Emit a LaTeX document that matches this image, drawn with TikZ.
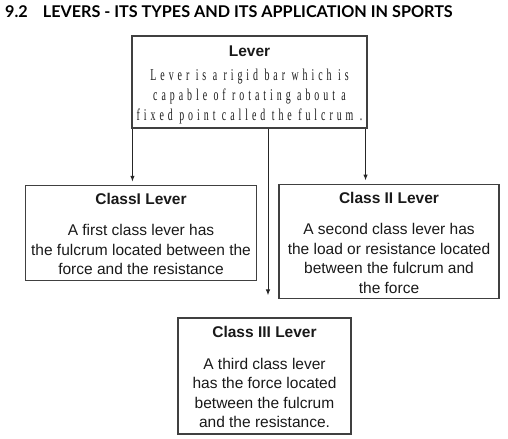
\documentclass[tikz,border=0pt]{standalone}
\usepackage{fontspec}
\setmainfont{Liberation Sans}
\newfontfamily\headfont{Lato}
\newfontfamily\condserif[FakeStretch=0.6,LetterSpace=24]{Liberation Serif}
\usetikzlibrary{arrows.meta}
\usetikzlibrary{positioning}
\newcommand{\levertype}[2]{%
    \begin{tabular}{c}
        \rule{0pt}{19bp}\textbf{#1}\\[12bp]
        #2
    \end{tabular}%
}
\newcommand{\Lever}{%
    \begin{tabular}{@{}c@{}}
        \rule{0pt}{19bp}{\fontsize{15.5bp}{20bp}\selectfont\textbf{Lever}}\\[4bp]
        {\condserif Lever is a rigid bar which is}\\
        {\condserif capable of rotating about a}\\
        {\condserif fixed point called the fulcrum .}
    \end{tabular}%
}
\newcommand{\ClassOne}{%
    \levertype
    {ClassI Lever}
    {A first class lever has\\
     the fulcrum located between the\\
     force and the resistance}%
}
\newcommand{\ClassTwo}{%
    \levertype
    {Class II Lever}
    {A second class lever has\\
     the load or resistance located\\
     between the fulcrum and\\
     the force}%
}
\newcommand{\ClassThree}{%
    \levertype
    {Class III Lever}
    {A third class lever\\
     has the force located\\
     between the fulcrum\\
     and the resistance.}%
}

\begin{document}
\begin{tikzpicture}[x=1bp, y=1bp,
                    every node/.style={inner sep=0pt},
                    leverbox/.style={
                        draw=black!75, line width=1.1bp,
                        font=\fontsize{15.5bp}{19.5bp}\selectfont,
                        text=black!90
                    },
                    link/.style={
                        draw=black!85, line width=1bp,
                        -{Latex[length=6bp,width=4.5bp]}
                    }]

    \useasboundingbox (0,0) rectangle (508,439);

    \node[anchor=base west, font=\headfont\bfseries\fontsize{16.2bp}{18bp}\selectfont]
        (heading) at (5,421.5) {9.2\hspace{15bp}LEVERS - ITS TYPES AND ITS APPLICATION IN SPORTS};

    \node[leverbox, minimum width=235bp, minimum height=92bp,
          font=\fontsize{16.5bp}{20bp}\selectfont] (lever) at (249.5,357) {\Lever};
    \node[leverbox, minimum width=228bp, minimum height=92bp] (c1) at (141,206) {\ClassOne};
    \node[leverbox, minimum width=220bp, minimum height=109bp] (c2) at (389,197.5) {\ClassTwo};
    \node[leverbox, minimum width=173bp, minimum height=116bp] (c3) at (264.5,63) {\ClassThree};

    \coordinate (mid top) at ([xshift=18.5bp]lever.south);
    \coordinate (mid end) at ([yshift=22bp]mid top |- c3.north);

    \draw[link, shorten >=3bp] ([xshift=1bp]lever.south west) -- ([xshift=1bp]lever.south west |- c1.north);
    \draw[link, shorten >=3bp] ([xshift=-2bp]lever.south east) -- ([xshift=-2bp]lever.south east |- c2.north);
    \draw[link] (mid top) -- (mid end);

\end{tikzpicture}
\end{document}
